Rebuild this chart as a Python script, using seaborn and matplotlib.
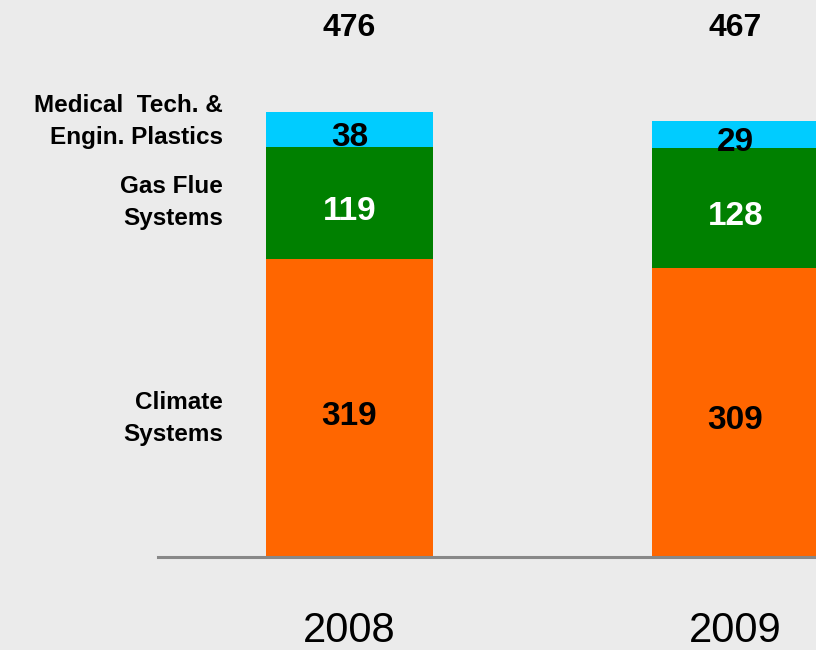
import numpy as np
import pandas as pd
import seaborn as sns
import matplotlib.pyplot as plt


###################################################
''' Data '''
###################################################

years = ['2008', '2009']
climate = [319, 309]
gas_flue = [119, 128]
medical = [38, 29]
totals = [476, 467]   # as printed in the chart (rounded figures)

segment_names = ['Climate\nSystems', 'Gas Flue\nSystems', 'Medical  Tech. &\nEngin. Plastics']
segment_colors = ['#FF6600', '#008000', '#00CCFF']
value_colors = ['black', 'white', 'black']

bg = '#EBEBEB'

sns.set_style('white')
plt.rcParams['font.family'] = ['Liberation Sans', 'DejaVu Sans']

df = pd.DataFrame({'year': years, 'climate': climate, 'gas': gas_flue, 'medical': medical})
df['c1'] = df['climate']
df['c2'] = df['c1'] + df['gas']
df['c3'] = df['c2'] + df['medical']

fig = plt.figure(figsize=(8.16, 6.5), dpi=100, facecolor=bg)
ax = fig.add_axes([158 / 816, 93 / 650, 658 / 816, 557 / 650])
ax.set_facecolor(bg)

bar_w = 0.4326
# draw tallest cumulative first, lower ones on top of it
for col, color in zip(['c3', 'c2', 'c1'], segment_colors[::-1]):
    sns.barplot(data=df, x='year', y=col, color=color, saturation=1,
                width=bar_w, errorbar=None, ax=ax, linewidth=0)

ax.set_xlim(-0.496, 1.2085)
ax.set_ylim(0, 595.4)

# values inside the segments
lows = np.column_stack([np.zeros(len(years)), df['c1'], df['c2']])
highs = np.column_stack([df['c1'], df['c2'], df['c3']])
vals = np.column_stack([climate, gas_flue, medical])
for i in range(len(years)):
    for j in range(3):
        mid = (lows[i, j] + highs[i, j]) / 2
        ax.annotate(str(vals[i, j]), xy=(i, mid), xytext=(0, -6), textcoords='offset points',
                    ha='center', va='center', fontsize=24, fontweight='bold', color=value_colors[j])

# totals on top
for i, t in enumerate(totals):
    ax.text(i, 0.95, str(t), transform=ax.get_xaxis_transform(), ha='center', va='center',
            fontsize=23, fontweight='bold', color='black')

# segment names left of the first bar
name_offsets = [-8, 0, 6]
for j in range(3):
    mid = (lows[0, j] + highs[0, j]) / 2
    ax.annotate(segment_names[j], xy=(-bar_w / 2, mid), xytext=(-31, name_offsets[j]),
                textcoords='offset points', ha='right', va='center', fontsize=17.5,
                fontweight='bold', color='black', linespacing=1.5)

for s in ['top', 'right', 'left']:
    ax.spines[s].set_visible(False)
ax.spines['bottom'].set_color('#888888')
ax.spines['bottom'].set_linewidth(2.2)
ax.set_yticks([])
ax.set_xlabel('')
ax.set_ylabel('')
ax.tick_params(axis='x', length=0, pad=39, labelsize=30, labelcolor='black')

plt.savefig('out.png', dpi=100, facecolor=bg)
